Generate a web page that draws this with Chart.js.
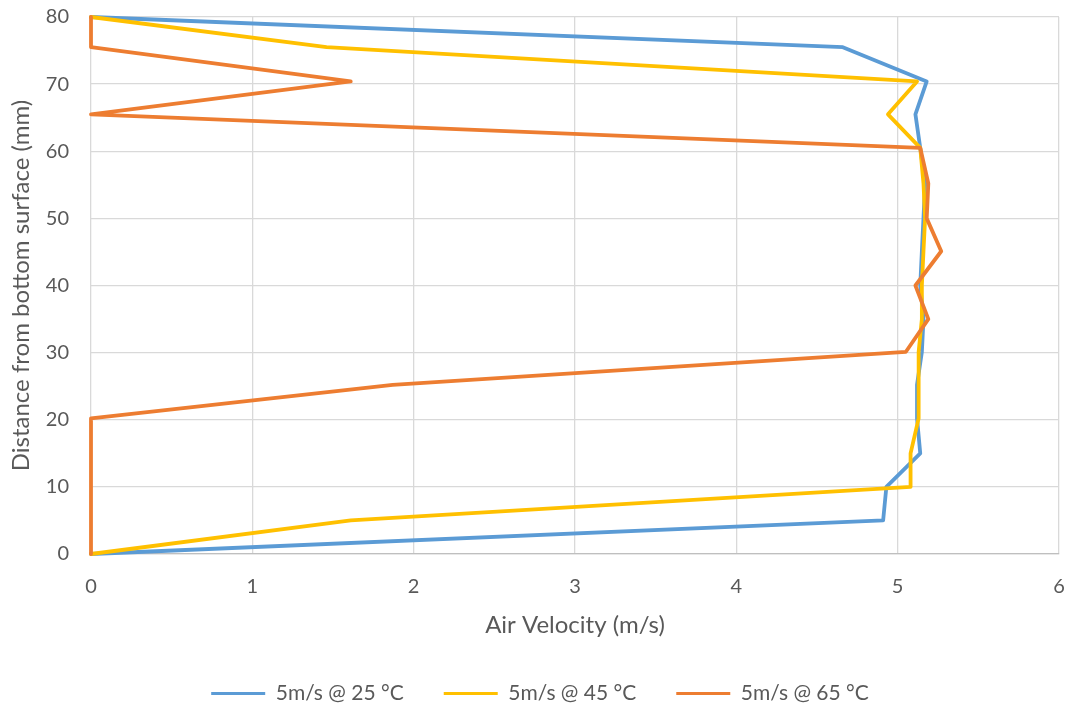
<!DOCTYPE html>
<html>
<head>
<meta charset="utf-8">
<script src="https://cdn.jsdelivr.net/npm/chart.js@4.4.0/dist/chart.umd.min.js"></script>
<style>
  html, body { margin: 0; padding: 0; background: #fff; }
  #wrap { width: 1073px; height: 711px; }
</style>
</head>
<body>
<div id="wrap"><canvas id="velChart" width="1073" height="711"></canvas></div>
<script>
// distance from bottom surface (mm)
const heights = [0, 5, 10, 15, 20.2, 25.2, 30.1, 35, 40, 45.1, 50, 55.2, 60.5, 65.5, 70.4, 75.5, 80];
// air velocity (m/s) for each series
const v25 = [0, 4.91, 4.93, 5.14, 5.12, 5.12, 5.15, 5.16, 5.14, 5.15, 5.16, 5.17, 5.14, 5.11, 5.18, 4.66, 0];
const v45 = [0, 1.61, 5.08, 5.08, 5.13, 5.13, 5.13, 5.15, 5.15, 5.16, 5.17, 5.16, 5.14, 4.94, 5.12, 1.46, 0];
const v65 = [0, 0, 0, 0, 0, 1.87, 5.05, 5.19, 5.11, 5.27, 5.18, 5.19, 5.14, 0, 1.61, 0, 0];
const seriesNames = ["5m/s @ 25 °C", "5m/s @ 45 °C", "5m/s @ 65 °C"];
const seriesColors = ["#5B9BD5", "#FFC000", "#ED7D31"];
const xTicks = [0, 1, 2, 3, 4, 5, 6];
const yTicks = [0, 10, 20, 30, 40, 50, 60, 70, 80];

const font = "Lato, 'Open Sans', sans-serif";
const textColor = "#595959";

function toPoints(vals) {
  return vals.map((v, i) => ({ x: v, y: heights[i] }));
}

// later series are drawn on top, like the original
const datasets = [v25, v45, v65].map((vals, i) => ({
  label: seriesNames[i],
  data: toPoints(vals),
  showLine: true,
  borderColor: seriesColors[i],
  backgroundColor: seriesColors[i],
  borderWidth: 3.8,
  borderJoinStyle: "round",
  borderCapStyle: "round",
  pointRadius: 0,
  fill: false,
  tension: 0,
  clip: 4,
  order: 2 - i
}));

new Chart(document.getElementById("velChart"), {
  type: "scatter",
  data: { datasets },
  options: {
    responsive: false,
    animation: false,
    layout: { padding: { left: 7, right: 0, top: 17, bottom: -3 } },
    plugins: {
      tooltip: { enabled: false },
      legend: {
        position: "bottom",
        labels: {
          font: { family: font, size: 21 },
          color: textColor,
          boxWidth: 54,
          boxHeight: 3,
          padding: 40,
          generateLabels: chart => chart.data.datasets.map((ds, i) => ({
            text: ds.label,
            fillStyle: ds.borderColor,
            strokeStyle: ds.borderColor,
            lineWidth: 0,
            fontColor: textColor,
            datasetIndex: i
          }))
        }
      }
    },
    scales: {
      x: {
        type: "linear",
        min: 0,
        max: 6,
        afterBuildTicks: s => { s.ticks = xTicks.map(v => ({ value: v })); },
        ticks: { font: { family: font, size: 20 }, color: textColor, padding: 21 },
        grid: { color: "#d9d9d9", lineWidth: 1.3, drawTicks: false },
        border: { color: "#bfbfbf", width: 1.3 },
        title: {
          display: true,
          text: "Air Velocity (m/s)",
          font: { family: font, size: 24 },
          color: textColor,
          padding: { top: 8, bottom: 3 }
        },
        afterFit: s => { s.height = 89; s.paddingRight = 14; s.paddingLeft = 0; }
      },
      y: {
        type: "linear",
        min: 0,
        max: 80,
        afterBuildTicks: s => { s.ticks = yTicks.map(v => ({ value: v })); },
        ticks: { font: { family: font, size: 20 }, color: textColor, padding: 22 },
        grid: { color: "#d9d9d9", lineWidth: 1.3, drawTicks: false },
        border: { display: false },
        title: {
          display: true,
          text: "Distance from bottom surface (mm)",
          font: { family: font, size: 24 },
          color: textColor,
          padding: { top: 0, bottom: 4 }
        },
        afterFit: s => { s.width = 84; s.paddingTop = 0; s.paddingBottom = 0; }
      }
    }
  }
});
</script>
</body>
</html>
